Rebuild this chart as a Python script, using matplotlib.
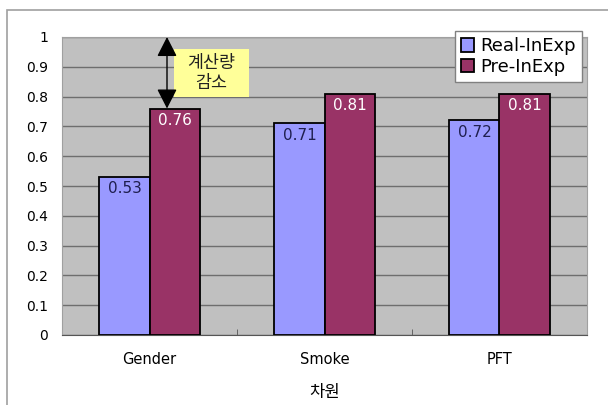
import numpy as np
import matplotlib
matplotlib.use('Agg')
import matplotlib.pyplot as plt
from matplotlib.patches import Rectangle

plt.rcParams['font.family'] = ['DejaVu Sans', 'Noto Sans CJK KR']

# ── Data ─────────────────────────────────────────────────────
categories = ['Gender', 'Smoke', 'PFT']
real_inexp = [0.53, 0.71, 0.72]
pre_inexp  = [0.76, 0.81, 0.81]
real_lbls  = ['0.53', '0.71', '0.72']
pre_lbls   = ['0.76', '0.81', '0.81']
yticks     = [0, 0.1, 0.2, 0.3, 0.4, 0.5, 0.6, 0.7, 0.8, 0.9, 1.0]
ytick_lbls = ['0', '0.1', '0.2', '0.3', '0.4', '0.5', '0.6', '0.7', '0.8', '0.9', '1']

C = {'blue': '#9999FF', 'maroon': '#993366', 'plot': '#C0C0C0',
     'grid': '#6E6E6E', 'yellow': '#FFFF99', 'frame': '#A0A0A0'}

fig = plt.figure(figsize=(6.08, 4.05), dpi=100)
fig.patch.set_facecolor('white')
# outer chart frame (Excel style)
fig.patches.append(Rectangle((7/608, -0.2), 1.5, 1.2 - 10/405,
                             transform=fig.transFigure, fill=False,
                             edgecolor=C['frame'], lw=1.2))

ax = fig.add_axes([62/608, 1 - 335/405, 525/608, 298/405])
ax.set_facecolor(C['plot'])

x = np.arange(len(categories))
w = 0.286
b1 = ax.bar(x - w/2, real_inexp, w, color=C['blue'], edgecolor='black', lw=1.3,
            label='Real-InExp', zorder=3)
b2 = ax.bar(x + w/2, pre_inexp, w, color=C['maroon'], edgecolor='black', lw=1.3,
            label='Pre-InExp', zorder=3)

for bar, t in zip(b1, real_lbls):
    ax.annotate(t, (bar.get_x() + bar.get_width()/2, bar.get_height()),
                xytext=(0, -3), textcoords='offset points', ha='center', va='top',
                fontsize=11, color='#1F1F4F', zorder=4)
for bar, t in zip(b2, pre_lbls):
    ax.annotate(t, (bar.get_x() + bar.get_width()/2, bar.get_height()),
                xytext=(0, -3), textcoords='offset points', ha='center', va='top',
                fontsize=11, color='white', zorder=4)

ax.set_xlim(-0.5, 2.5)
ax.set_ylim(0, 1)
ax.set_yticks(yticks)
ax.set_yticklabels(ytick_lbls, fontsize=10)
ax.tick_params(axis='y', length=0, pad=10)
ax.set_xticks(x)
ax.set_xticklabels(categories, fontsize=10.5)
ax.tick_params(axis='x', length=0, pad=12)
ax.set_xticks([0.5, 1.5], minor=True)
ax.tick_params(axis='x', which='minor', length=4, direction='in', color='#555555')
ax.grid(axis='y', color=C['grid'], lw=1.0, zorder=0)
ax.set_axisbelow(True)
for s in ax.spines.values():
    s.set_color(C['frame'])
ax.spines['bottom'].set_color('#555555')
ax.set_xlabel('차원', fontsize=12, labelpad=12)

# annotation: double arrow + yellow note
ax.annotate('', xy=(0.1, 0.76), xytext=(0.1, 1.0),
            arrowprops=dict(arrowstyle='<|-|>,head_length=0.55,head_width=0.28',
                            color='black', lw=1.0, mutation_scale=22,
                            shrinkA=0, shrinkB=0), zorder=5)
ax.add_patch(Rectangle((0.14, 0.799), 0.429, 0.161, fc=C['yellow'], ec='none', zorder=4))
ax.text(0.354, 0.879, '계산량\n감소', ha='center', va='center', fontsize=12.5,
        linespacing=1.15, zorder=5, color='#222222')

leg = ax.legend(loc='upper right', bbox_to_anchor=(0.99, 1.02), fontsize=13,
                frameon=True, fancybox=False, edgecolor='#808080', framealpha=1,
                handlelength=0.75, handleheight=0.75, handletextpad=0.3,
                labelspacing=0.15, borderpad=0.35, borderaxespad=0)
leg.get_frame().set_linewidth(1.0)

fig.savefig('out.png', dpi=100, facecolor='white')
